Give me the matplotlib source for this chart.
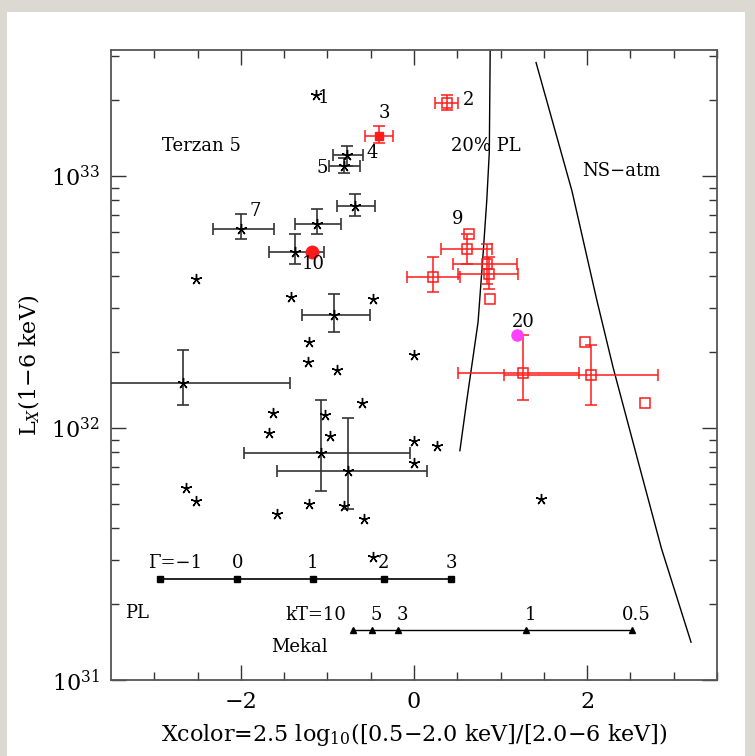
import numpy as np
import matplotlib
matplotlib.use("Agg")
import matplotlib.pyplot as plt
from matplotlib.patches import Rectangle

# ---------------- data (log10 Lx) ----------------
# black stars without error bars
star_x = [-1.13, -2.52, -1.42, -0.47, -1.21, 0.00, -1.22, -0.89, -0.60, -1.63, -1.03,
          -1.67, -0.97, 0.00, 0.00, 0.27, -2.63, -2.52, -1.58, -1.21, -0.81, -0.58, 1.47, -0.47]
star_logL = [33.32, 32.59, 32.52, 32.51, 32.34, 32.29, 32.26, 32.23, 32.10, 32.06, 32.05,
             31.98, 31.97, 31.95, 31.86, 31.93, 31.76, 31.71, 31.66, 31.70, 31.69, 31.64, 31.72, 31.49]

# black stars with error bars
bstar_x = [-0.77, -0.81, -0.68, -1.12, -2.00, -1.37, -0.92, -2.67, -1.07, -0.76]
bstar_xlo = [-0.94, -0.98, -0.89, -1.37, -2.32, -1.67, -1.29, -3.70, -1.96, -1.58]
bstar_xhi = [-0.59, -0.62, -0.45, -0.84, -1.62, -1.04, -0.51, -1.43, -0.05, 0.15]
bstar_logL = [33.083, 33.04, 32.88, 32.81, 32.79, 32.70, 32.45, 32.18, 31.90, 31.83]
bstar_ylo = [33.04, 33.01, 32.84, 32.77, 32.75, 32.65, 32.38, 32.09, 31.75, 31.68]
bstar_yhi = [33.12, 33.07, 32.93, 32.87, 32.85, 32.77, 32.53, 32.31, 32.11, 32.04]

# red open squares with error bars
rsq_x = [0.38, 0.61, 0.84, 0.87, 0.22, 1.26, 2.04]
rsq_xlo = [0.24, 0.31, 0.45, 0.51, -0.08, 0.51, 1.04]
rsq_xhi = [0.51, 0.90, 1.19, 1.20, 0.53, 1.91, 2.82]
rsq_logL = [33.29, 32.71, 32.65, 32.61, 32.60, 32.22, 32.21]
rsq_ylo = [33.26, 32.65, 32.57, 32.55, 32.54, 32.11, 32.09]
rsq_yhi = [33.32, 32.77, 32.73, 32.68, 32.68, 32.37, 32.33]

# red open squares, no error bars
rsq2_x = [0.63, 0.88, 1.97, 2.67]
rsq2_logL = [32.77, 32.51, 32.34, 32.10]

# red filled square (src 3), red filled circle (src 10), magenta (src 20)
src3_x, src3_xlo, src3_xhi = -0.40, -0.57, -0.24
src3_logL, src3_ylo, src3_yhi = 33.16, 33.13, 33.20
src10_x, src10_logL = -1.18, 32.70
src20_x, src20_logL = 1.19, 32.37

# source labels
lab_text = ["1", "2", "3", "4", "5", "7", "9", "10", "20"]
lab_x = [-1.05, 0.63, -0.34, -0.48, -1.06, -1.83, 0.50, -1.16, 1.26]
lab_logL = [33.31, 33.30, 33.25, 33.09, 33.03, 32.86, 32.83, 32.65, 32.42]

# model curves
pl20_x = [0.88, 0.87, 0.84, 0.80, 0.74, 0.61, 0.53]
pl20_logL = [33.50, 33.095, 32.90, 32.70, 32.42, 32.11, 31.91]
ns_x = [1.41, 1.825, 2.11, 2.30, 2.61, 2.86, 3.20]
ns_logL = [33.45, 32.94, 32.51, 32.24, 31.84, 31.52, 31.15]

# model grids
gam_x = [-2.93, -2.04, -1.17, -0.35, 0.43]
gam_labels = ["\u0393=\u22121", "0", "1", "2", "3"]
gam_logL = 31.40
kt_x = [-0.71, -0.49, -0.18, 1.29, 2.52]
kt_labels = ["kT=10", "5", "3", "1", "0.5"]
kt_logL = 31.20

# ---------------- figure ----------------
plt.rcParams['font.family'] = ['DejaVu Serif']
plt.rcParams['mathtext.fontset'] = 'dejavuserif'

fig = plt.figure(figsize=(7.55, 7.56), dpi=100, facecolor='#dcd9d3')
fig.patches.append(Rectangle((7/755, 0), (745-7)/755, 1-12/756, transform=fig.transFigure,
                             facecolor='white', edgecolor='none', zorder=-10))
ax = fig.add_axes([111/755, 1-680/756, (717-111)/755, (680-50)/756])
ax.set_facecolor('white')

P = lambda a: 10.0 ** np.asarray(a, dtype=float)

red = '#ff1a1a'
black = 'black'
ast = (5, 2, 0)
sms = 8      # star marker size
qms = 6.5    # square marker size

# curves
ax.plot(pl20_x, P(pl20_logL), color='black', lw=1.0, zorder=2)
ax.plot(ns_x, P(ns_logL), color='black', lw=1.0, zorder=2)

# black stars without errors
ax.plot(star_x, P(star_logL), ls='none', marker=ast, ms=sms, mec=black, mew=1.0, zorder=4)

# black stars with errors
bx = np.array(bstar_x); by = P(bstar_logL)
xerr = [bx - np.array(bstar_xlo), np.array(bstar_xhi) - bx]
yerr = [by - P(bstar_ylo), P(bstar_yhi) - by]
ax.errorbar(bx, by, xerr=xerr, yerr=yerr, fmt='none', ecolor='#333333', elinewidth=1.2,
            capsize=4, capthick=1.2, zorder=3)
ax.plot(bx, by, ls='none', marker=ast, ms=sms, mec=black, mew=1.0, zorder=4)

# red open squares with errors
rx = np.array(rsq_x); ry = P(rsq_logL)
xerr = [rx - np.array(rsq_xlo), np.array(rsq_xhi) - rx]
yerr = [ry - P(rsq_ylo), P(rsq_yhi) - ry]
ax.errorbar(rx, ry, xerr=xerr, yerr=yerr, fmt='s', mfc='none', mec=red, ms=qms, mew=1.1,
            ecolor=red, elinewidth=1.1, capsize=4, capthick=1.1, zorder=4)
ax.plot(rsq2_x, P(rsq2_logL), ls='none', marker='s', mfc='none', mec=red, ms=qms, mew=1.1, zorder=4)

# src 3
y3 = P(src3_logL)
ax.errorbar([src3_x], [y3], xerr=[[src3_x - src3_xlo], [src3_xhi - src3_x]],
            yerr=[[y3 - P(src3_ylo)], [P(src3_yhi) - y3]], fmt='s', color=red, ms=6,
            ecolor=red, elinewidth=1.1, capsize=4, capthick=1.1, zorder=5)
ax.plot([src10_x], [P(src10_logL)], 'o', color=red, ms=9, zorder=5)
ax.plot([src20_x], [P(src20_logL)], 'o', color='#ff40ff', ms=8, zorder=5)

# labels
for t, x, l in zip(lab_text, lab_x, lab_logL):
    ax.text(x, P(l), t, fontsize=13, ha='center', va='center', zorder=6)

ax.text(-2.45, P(33.12), "Terzan 5", fontsize=13, ha='center', va='center')
ax.text(0.83, P(33.12), "20% PL", fontsize=13, ha='center', va='center')
ax.text(2.40, P(33.02), "NS\u2212atm", fontsize=13, ha='center', va='center')

# PL grid
ax.plot(gam_x, P([gam_logL]*len(gam_x)), color='black', lw=1.2, marker='s', ms=4, zorder=3)
for t, x in zip(gam_labels, gam_x):
    ax.text(x if t != gam_labels[0] else x + 0.17, P(gam_logL + 0.066), t, fontsize=13,
            ha='center', va='center')
ax.text(-3.20, P(31.265), "PL", fontsize=13, ha='center', va='center')

# Mekal grid
ax.plot(kt_x, P([kt_logL]*len(kt_x)), color='black', lw=1.0, marker='^', ms=4, zorder=3)
for t, x in zip(kt_labels, kt_x):
    if t.startswith('kT'):
        ax.text(x - 0.78, P(kt_logL + 0.056), t, fontsize=13, ha='left', va='center')
    else:
        ax.text(x + 0.05, P(kt_logL + 0.056), t, fontsize=13, ha='center', va='center')
ax.text(-1.32, P(31.13), "Mekal", fontsize=13, ha='center', va='center')

# axes
ax.set_xlim(-3.5, 3.5)
ax.set_yscale('log')
ax.set_ylim(1e31, 10**33.5)
ax.set_xticks([-2, 0, 2])
ax.set_xticklabels(["\u22122", "0", "2"])
ax.set_xticks(np.arange(-3.0, 3.51, 0.5), minor=True)
ax.tick_params(which='both', direction='in', top=True, right=True, colors='#333333',
               labelcolor='black', labelsize=16)
ax.tick_params(which='major', length=11, width=1.0, pad=8)
ax.tick_params(which='minor', length=6, width=1.0)
for s in ax.spines.values():
    s.set_color('#555555')
    s.set_linewidth(1.3)

ax.set_xlabel("Xcolor=2.5 log$_{10}$([0.5\u22122.0 keV]/[2.0\u22126 keV])", fontsize=16, labelpad=6)
ax.set_ylabel("L$_X$(1\u22126 keV)", fontsize=16, labelpad=6)

fig.savefig("out.png", dpi=100, facecolor=fig.get_facecolor())
